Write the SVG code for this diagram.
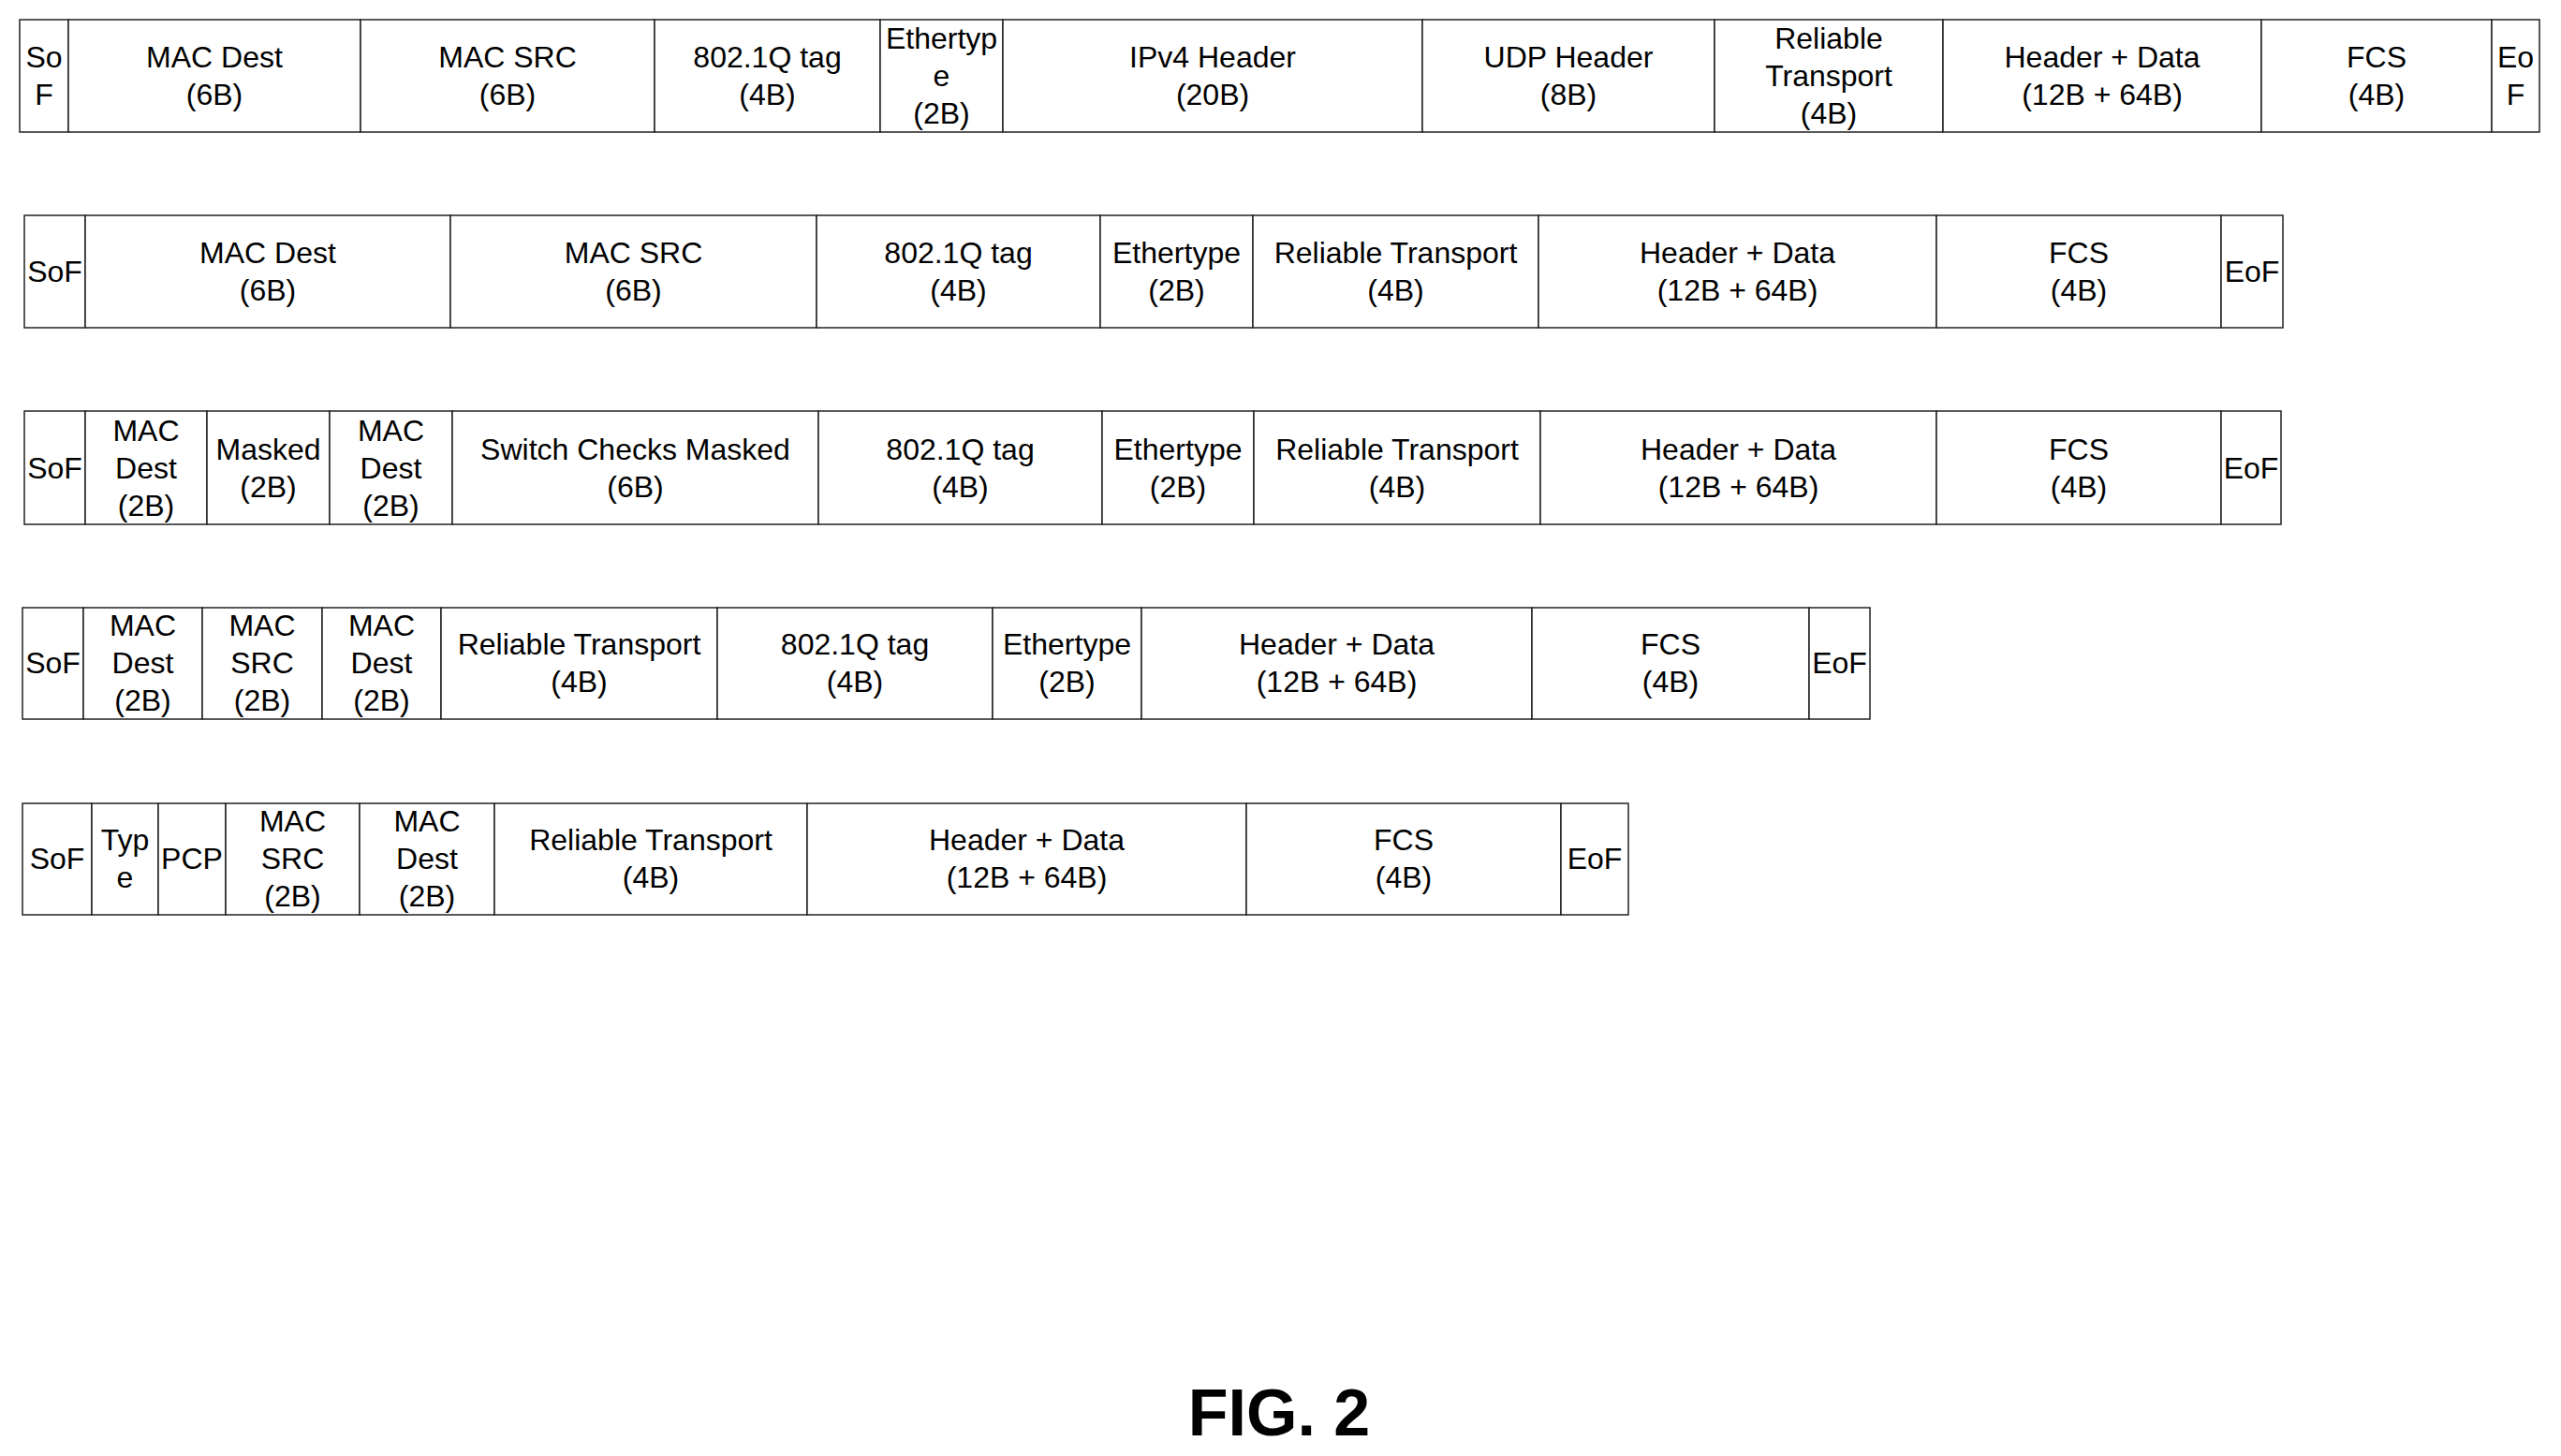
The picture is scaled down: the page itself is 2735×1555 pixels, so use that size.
<svg xmlns="http://www.w3.org/2000/svg" width="2735" height="1555" viewBox="0 0 2735 1555">
<style>
rect{fill:#fff;stroke:#222;stroke-width:1.5}
text{font-family:"Liberation Sans",Arial,sans-serif;font-size:32px;text-anchor:middle;fill:#000}
.fig{font-size:70px;font-weight:bold}
</style>
<rect x="0" y="0" width="2735" height="1555" style="stroke:none"/>
<g id="row1">
<g id="r1-sof"><rect x="21" y="21" width="52" height="120"/><text x="47" y="72">So<tspan x="47" dy="40">F</tspan></text></g>
<g id="r1-macdest"><rect x="73" y="21" width="312" height="120"/><text x="229" y="72">MAC Dest<tspan x="229" dy="40">(6B)</tspan></text></g>
<g id="r1-macsrc"><rect x="385" y="21" width="314" height="120"/><text x="542" y="72">MAC SRC<tspan x="542" dy="40">(6B)</tspan></text></g>
<g id="r1-8021q"><rect x="699" y="21" width="241" height="120"/><text x="819.5" y="72">802.1Q tag<tspan x="819.5" dy="40">(4B)</tspan></text></g>
<g id="r1-ethertype"><rect x="940" y="21" width="131" height="120"/><text x="1005.5" y="52">Ethertyp<tspan x="1005.5" dy="40">e</tspan><tspan x="1005.5" dy="40">(2B)</tspan></text></g>
<g id="r1-ipv4"><rect x="1071" y="21" width="448" height="120"/><text x="1295" y="72">IPv4 Header<tspan x="1295" dy="40">(20B)</tspan></text></g>
<g id="r1-udp"><rect x="1519" y="21" width="312" height="120"/><text x="1675" y="72">UDP Header<tspan x="1675" dy="40">(8B)</tspan></text></g>
<g id="r1-rt"><rect x="1831" y="21" width="244" height="120"/><text x="1953" y="52">Reliable<tspan x="1953" dy="40">Transport</tspan><tspan x="1953" dy="40">(4B)</tspan></text></g>
<g id="r1-hd"><rect x="2075" y="21" width="340" height="120"/><text x="2245" y="72">Header + Data<tspan x="2245" dy="40">(12B + 64B)</tspan></text></g>
<g id="r1-fcs"><rect x="2415" y="21" width="246" height="120"/><text x="2538" y="72">FCS<tspan x="2538" dy="40">(4B)</tspan></text></g>
<g id="r1-eof"><rect x="2661" y="21" width="51" height="120"/><text x="2686.5" y="72">Eo<tspan x="2686.5" dy="40">F</tspan></text></g>
</g>
<g id="row2">
<g id="r2-sof"><rect x="26" y="230" width="65" height="120"/><text x="58.5" y="301">SoF</text></g>
<g id="r2-macdest"><rect x="91" y="230" width="390" height="120"/><text x="286" y="281">MAC Dest<tspan x="286" dy="40">(6B)</tspan></text></g>
<g id="r2-macsrc"><rect x="481" y="230" width="391" height="120"/><text x="676.5" y="281">MAC SRC<tspan x="676.5" dy="40">(6B)</tspan></text></g>
<g id="r2-8021q"><rect x="872" y="230" width="303" height="120"/><text x="1023.5" y="281">802.1Q tag<tspan x="1023.5" dy="40">(4B)</tspan></text></g>
<g id="r2-ethertype"><rect x="1175" y="230" width="163" height="120"/><text x="1256.5" y="281">Ethertype<tspan x="1256.5" dy="40">(2B)</tspan></text></g>
<g id="r2-rt"><rect x="1338" y="230" width="305" height="120"/><text x="1490.5" y="281">Reliable Transport<tspan x="1490.5" dy="40">(4B)</tspan></text></g>
<g id="r2-hd"><rect x="1643" y="230" width="425" height="120"/><text x="1855.5" y="281">Header + Data<tspan x="1855.5" dy="40">(12B + 64B)</tspan></text></g>
<g id="r2-fcs"><rect x="2068" y="230" width="304" height="120"/><text x="2220" y="281">FCS<tspan x="2220" dy="40">(4B)</tspan></text></g>
<g id="r2-eof"><rect x="2372" y="230" width="66" height="120"/><text x="2405" y="301">EoF</text></g>
</g>
<g id="row3">
<g id="r3-sof"><rect x="26" y="439" width="65" height="121"/><text x="58.5" y="511">SoF</text></g>
<g id="r3-macdest1"><rect x="91" y="439" width="130" height="121"/><text x="156" y="471">MAC<tspan x="156" dy="40">Dest</tspan><tspan x="156" dy="40">(2B)</tspan></text></g>
<g id="r3-masked"><rect x="221" y="439" width="131" height="121"/><text x="286.5" y="491">Masked<tspan x="286.5" dy="40">(2B)</tspan></text></g>
<g id="r3-macdest2"><rect x="352" y="439" width="131" height="121"/><text x="417.5" y="471">MAC<tspan x="417.5" dy="40">Dest</tspan><tspan x="417.5" dy="40">(2B)</tspan></text></g>
<g id="r3-scm"><rect x="483" y="439" width="391" height="121"/><text x="678.5" y="491">Switch Checks Masked<tspan x="678.5" dy="40">(6B)</tspan></text></g>
<g id="r3-8021q"><rect x="874" y="439" width="303" height="121"/><text x="1025.5" y="491">802.1Q tag<tspan x="1025.5" dy="40">(4B)</tspan></text></g>
<g id="r3-ethertype"><rect x="1177" y="439" width="162" height="121"/><text x="1258" y="491">Ethertype<tspan x="1258" dy="40">(2B)</tspan></text></g>
<g id="r3-rt"><rect x="1339" y="439" width="306" height="121"/><text x="1492" y="491">Reliable Transport<tspan x="1492" dy="40">(4B)</tspan></text></g>
<g id="r3-hd"><rect x="1645" y="439" width="423" height="121"/><text x="1856.5" y="491">Header + Data<tspan x="1856.5" dy="40">(12B + 64B)</tspan></text></g>
<g id="r3-fcs"><rect x="2068" y="439" width="304" height="121"/><text x="2220" y="491">FCS<tspan x="2220" dy="40">(4B)</tspan></text></g>
<g id="r3-eof"><rect x="2372" y="439" width="64" height="121"/><text x="2404" y="511">EoF</text></g>
</g>
<g id="row4">
<g id="r4-sof"><rect x="24" y="649" width="65" height="119"/><text x="56.5" y="719">SoF</text></g>
<g id="r4-macdest1"><rect x="89" y="649" width="127" height="119"/><text x="152.5" y="679">MAC<tspan x="152.5" dy="40">Dest</tspan><tspan x="152.5" dy="40">(2B)</tspan></text></g>
<g id="r4-macsrc"><rect x="216" y="649" width="128" height="119"/><text x="280" y="679">MAC<tspan x="280" dy="40">SRC</tspan><tspan x="280" dy="40">(2B)</tspan></text></g>
<g id="r4-macdest2"><rect x="344" y="649" width="127" height="119"/><text x="407.5" y="679">MAC<tspan x="407.5" dy="40">Dest</tspan><tspan x="407.5" dy="40">(2B)</tspan></text></g>
<g id="r4-rt"><rect x="471" y="649" width="295" height="119"/><text x="618.5" y="699">Reliable Transport<tspan x="618.5" dy="40">(4B)</tspan></text></g>
<g id="r4-8021q"><rect x="766" y="649" width="294" height="119"/><text x="913" y="699">802.1Q tag<tspan x="913" dy="40">(4B)</tspan></text></g>
<g id="r4-ethertype"><rect x="1060" y="649" width="159" height="119"/><text x="1139.5" y="699">Ethertype<tspan x="1139.5" dy="40">(2B)</tspan></text></g>
<g id="r4-hd"><rect x="1219" y="649" width="417" height="119"/><text x="1427.5" y="699">Header + Data<tspan x="1427.5" dy="40">(12B + 64B)</tspan></text></g>
<g id="r4-fcs"><rect x="1636" y="649" width="296" height="119"/><text x="1784" y="699">FCS<tspan x="1784" dy="40">(4B)</tspan></text></g>
<g id="r4-eof"><rect x="1932" y="649" width="65" height="119"/><text x="1964.5" y="719">EoF</text></g>
</g>
<g id="row5">
<g id="r5-sof"><rect x="24" y="858" width="74" height="119"/><text x="61" y="928">SoF</text></g>
<g id="r5-type"><rect x="98" y="858" width="71" height="119"/><text x="133.5" y="908">Typ<tspan x="133.5" dy="40">e</tspan></text></g>
<g id="r5-pcp"><rect x="169" y="858" width="72" height="119"/><text x="205" y="928">PCP</text></g>
<g id="r5-macsrc"><rect x="241" y="858" width="143" height="119"/><text x="312.5" y="888">MAC<tspan x="312.5" dy="40">SRC</tspan><tspan x="312.5" dy="40">(2B)</tspan></text></g>
<g id="r5-macdest"><rect x="384" y="858" width="144" height="119"/><text x="456" y="888">MAC<tspan x="456" dy="40">Dest</tspan><tspan x="456" dy="40">(2B)</tspan></text></g>
<g id="r5-rt"><rect x="528" y="858" width="334" height="119"/><text x="695" y="908">Reliable Transport<tspan x="695" dy="40">(4B)</tspan></text></g>
<g id="r5-hd"><rect x="862" y="858" width="469" height="119"/><text x="1096.5" y="908">Header + Data<tspan x="1096.5" dy="40">(12B + 64B)</tspan></text></g>
<g id="r5-fcs"><rect x="1331" y="858" width="336" height="119"/><text x="1499" y="908">FCS<tspan x="1499" dy="40">(4B)</tspan></text></g>
<g id="r5-eof"><rect x="1667" y="858" width="72" height="119"/><text x="1703" y="928">EoF</text></g>
</g>
<g id="connectors"></g>
<text class="fig" x="1366" y="1533">FIG. 2</text>
</svg>
